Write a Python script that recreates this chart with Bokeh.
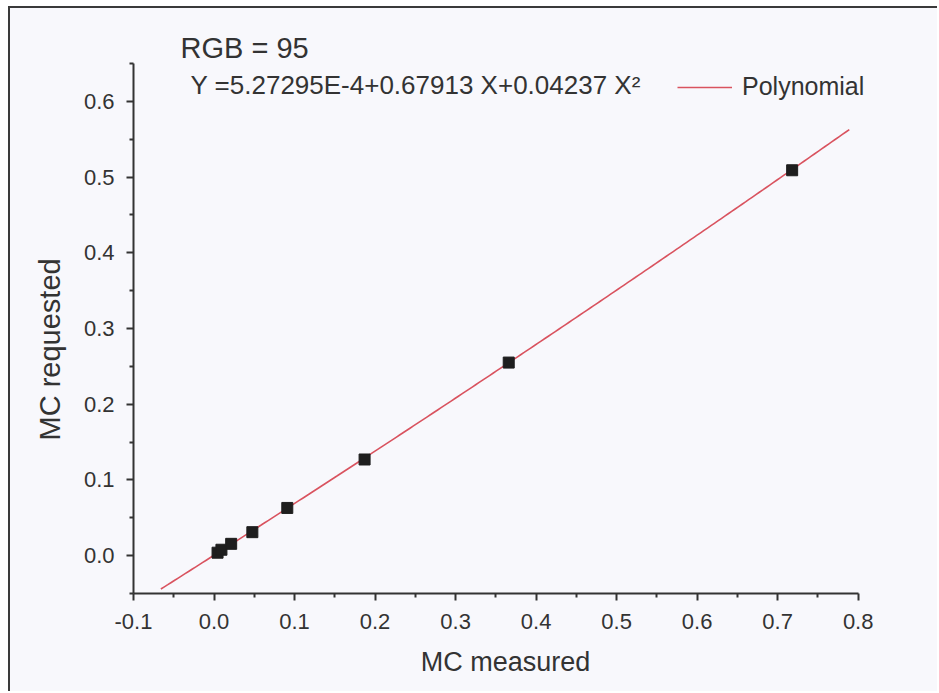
from bokeh.plotting import figure
from bokeh.models import Range1d, Label, Legend, LegendItem, FixedTicker, Title
from bokeh.embed import file_html
from bokeh.resources import INLINE
import numpy as np

# ---- data ----
x_ticks = [-0.1, 0.0, 0.1, 0.2, 0.3, 0.4, 0.5, 0.6, 0.7, 0.8]
x_tick_labels = ["-0.1", "0.0", "0.1", "0.2", "0.3", "0.4", "0.5", "0.6", "0.7", "0.8"]
x_minor = [-0.05, 0.05, 0.15, 0.25, 0.35, 0.45, 0.55, 0.65, 0.75]
y_ticks = [0.0, 0.1, 0.2, 0.3, 0.4, 0.5, 0.6]
y_tick_labels = ["0.0", "0.1", "0.2", "0.3", "0.4", "0.5", "0.6"]
y_minor = [-0.05, 0.05, 0.15, 0.25, 0.35, 0.45, 0.55, 0.65]

mc_measured = [0.0044, 0.0092, 0.0213, 0.0476, 0.091, 0.187, 0.366, 0.718]
mc_requested = [0.0039, 0.0078, 0.0156, 0.031, 0.063, 0.127, 0.255, 0.509]

# polynomial fit printed on the chart: Y = a + b X + c X^2
fit_coeffs = [5.27295e-4, 0.67913, 0.04237]
fit_x_start = -0.066
fit_x_end = 0.789

title_text = "RGB = 95"
equation_text = "Y =5.27295E-4+0.67913 X+0.04237 X\u00b2"
legend_text = "Polynomial"
x_label = "MC measured"
y_label = "MC requested"

FONT = "Liberation Sans"
TXT = "#333333"
BG = "#f8f8fc"

fit_x = np.linspace(fit_x_start, fit_x_end, 200)
fit_y = fit_coeffs[0] + fit_coeffs[1] * fit_x + fit_coeffs[2] * fit_x ** 2

p = figure(width=929, height=685,
           x_range=Range1d(-0.1, 0.824), y_range=Range1d(-0.05, 0.65),
           output_backend="svg", toolbar_location=None,
           min_border_left=123, min_border_right=62,
           min_border_top=55, min_border_bottom=100)
p.margin = (6, 0, 0, 8)
p.styles = {"border-left": "2px solid #3a3a3a", "border-top": "2px solid #3a3a3a",
            "background-color": BG}
p.background_fill_color = BG
p.border_fill_color = BG
p.outline_line_color = None
p.xgrid.visible = False
p.ygrid.visible = False

for ax, ticks, minor, labels in ((p.xaxis[0], x_ticks, x_minor, x_tick_labels),
                                 (p.yaxis[0], y_ticks, y_minor, y_tick_labels)):
    ax.ticker = FixedTicker(ticks=ticks, minor_ticks=minor)
    ax.major_label_overrides = {t: l for t, l in zip(ticks, labels)}
    ax.axis_line_color = "#333333"
    ax.axis_line_width = 2
    ax.major_tick_line_color = "#333333"
    ax.major_tick_line_width = 2
    ax.minor_tick_line_color = "#333333"
    ax.minor_tick_line_width = 2
    ax.major_tick_in = 0
    ax.major_tick_out = 7
    ax.minor_tick_in = 0
    ax.minor_tick_out = 4
    ax.major_label_text_font = FONT
    ax.major_label_text_font_size = "22px"
    ax.major_label_text_color = TXT
    ax.axis_label_text_font = FONT
    ax.axis_label_text_font_style = "normal"
    ax.axis_label_text_color = TXT

p.xaxis.bounds = (-0.1, 0.8)
p.xaxis.axis_label = x_label
p.xaxis.axis_label_text_font_size = "27px"
p.xaxis.major_label_standoff = 13
p.xaxis.axis_label_standoff = 15
p.yaxis.major_label_standoff = 12

# y-axis caption (placed like the reference, below the axis centre)
y_title = Title(text=y_label, align="left", offset=153, standoff=30,
                vertical_align="bottom", text_font=FONT, text_font_size="29px",
                text_font_style="normal", text_color=TXT)
p.add_layout(y_title, "left")

# top caption
p.title.text = title_text
p.title.align = "left"
p.title.offset = 47
p.title.standoff = 0
p.title.text_font = FONT
p.title.text_font_size = "29px"
p.title.text_font_style = "normal"
p.title.text_color = TXT

fit_r = p.line(fit_x, fit_y, line_color="#d9535f", line_width=1.6)
p.scatter(mc_measured, mc_requested, marker="square", size=11,
          fill_color="#1e1e1e", line_color="#1e1e1e")

p.add_layout(Label(x=-0.0292, y=0.602, text=equation_text, text_font=FONT,
                   text_font_size="26px", text_color=TXT))

legend = Legend(items=[LegendItem(label=legend_text, renderers=[fit_r])],
                location=(544, 492), glyph_width=55, glyph_height=20,
                label_standoff=10, padding=0, margin=0,
                border_line_alpha=0, background_fill_alpha=0,
                label_text_font=FONT, label_text_font_size="25px",
                label_text_color=TXT)
p.add_layout(legend)

open("out.html", "w").write(file_html(p, INLINE))
